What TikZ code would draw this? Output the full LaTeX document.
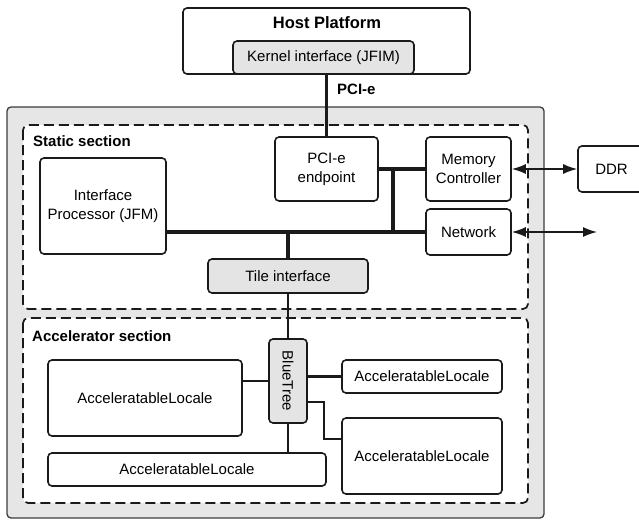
\documentclass[tikz,border=0pt]{standalone}
\usepackage{fontspec}
\setmainfont{Liberation Sans}
\usetikzlibrary{arrows.meta}
\definecolor{panel}{HTML}{E6E6E6}
\definecolor{boxgray}{HTML}{E4E4E4}
\definecolor{ink}{HTML}{1A1A1A}
\tikzset{
  blk/.style={draw=ink, line width=1.6pt, rounded corners=4pt, fill=white,
    align=center, inner sep=0pt, font=\fontsize{15}{19}\selectfont},
  grayblk/.style={blk, fill=boxgray},
  section/.style={draw=ink, line width=1.7pt, dash pattern=on 10pt off 5pt,
    rounded corners=5pt, fill=white},
  title/.style={font=\bfseries\fontsize{15}{18}\selectfont, anchor=west, inner sep=0pt},
  bus/.style={draw=ink, line width=3.5pt},
  link/.style={draw=ink, line width=2.4pt},
  io/.style={draw=ink, line width=1.5pt, {Latex[length=14pt,width=10pt]}-{Latex[length=14pt,width=10pt]}},
}
\begin{document}
\begin{tikzpicture}[x=1pt,y=-1pt]
\useasboundingbox (0,0) rectangle (639,519);

% host side
\node[blk, minimum width=287pt, minimum height=66pt] (host) at (326.5,41) {};
\node[font=\bfseries\fontsize{16.5}{20}\selectfont] (hosttitle) at (327,23) {Host Platform};
\node[grayblk, minimum width=181pt, minimum height=33pt] (kernel) at (323.5,57.5) {Kernel interface (JFIM)};

% FPGA panel and its two sections
\draw[draw=ink!85, fill=panel, line width=1.3pt, rounded corners=4pt] (7,107) rectangle (544,518);
\draw[section] (23,125) rectangle (528,309);
\draw[section] (23,318) rectangle (528,503);
\node[title] (statictitle) at (33,141) {Static section};
\node[title] (acceltitle) at (32,336) {Accelerator section};

% static section blocks
\node[blk, minimum width=126pt, minimum height=96pt] (ip) at (103,206) {Interface\\Processor (JFM)};
\node[blk, minimum width=103pt, minimum height=64pt] (pcie) at (326.5,169) {PCI-e\\endpoint};
\node[blk, minimum width=85pt, minimum height=64pt] (memctl) at (468.5,169) {Memory\\Controller};
\node[blk, minimum width=85pt, minimum height=46pt] (network) at (468.5,232) {Network};
\node[grayblk, minimum width=160pt, minimum height=34pt] (tile) at (288,276) {Tile interface};
\node[blk, minimum width=67pt, minimum height=46pt] (ddr) at (611.5,169) {DDR};

% accelerator section blocks
\node[grayblk, minimum width=38pt, minimum height=84pt] (bluetree) at (288,381) {};
\node[rotate=-90, font=\fontsize{15}{19}\selectfont] (bluetreelabel) at (bluetree.center) {BlueTree};
\node[blk, minimum width=194pt, minimum height=76pt] (al1) at (145,398) {AcceleratableLocale};
\node[blk, minimum width=278pt, minimum height=33pt] (al2) at (187,469.5) {AcceleratableLocale};
\node[blk, minimum width=160pt, minimum height=33pt] (al3) at (422,376.5) {AcceleratableLocale};
\node[blk, minimum width=160pt, minimum height=76pt] (al4) at (422,456) {AcceleratableLocale};

% PCI-e link to the host
\coordinate (jL) at (288,232);
\coordinate (jR) at (393,232);
\coordinate (jT) at (393,169);
\draw[bus] (pcie.north) -- (pcie.north |- kernel.south);
\node[title] (pcielabel) at (337,89) {PCI-e};

% static interconnect
\draw[bus] (ip.east |- jL) -- (jR) -- (network.west);
\draw[bus] (jR) -- (jT);
\draw[bus] (pcie.east) -- (memctl.west);
\draw[bus] (jL) -- (tile.north);

% BlueTree links
\draw[link] (tile.south) -- (bluetree.north);
\draw[link] (bluetree.west) -- (bluetree.west -| al1.east);
\draw[link] (bluetree.south) -- (bluetree.south |- al2.north);
\draw[link] (bluetree.east |- al3.west) -- (al3.west);
\draw[link] (bluetree.east |- 0,402) -| (324,439) -- (al4.west |- 0,439);

% off-chip connections
\coordinate (netout) at (597,232);
\draw[io] (memctl.east) -- (ddr.west);
\draw[io] (network.east) -- (netout);
\end{tikzpicture}
\end{document}
